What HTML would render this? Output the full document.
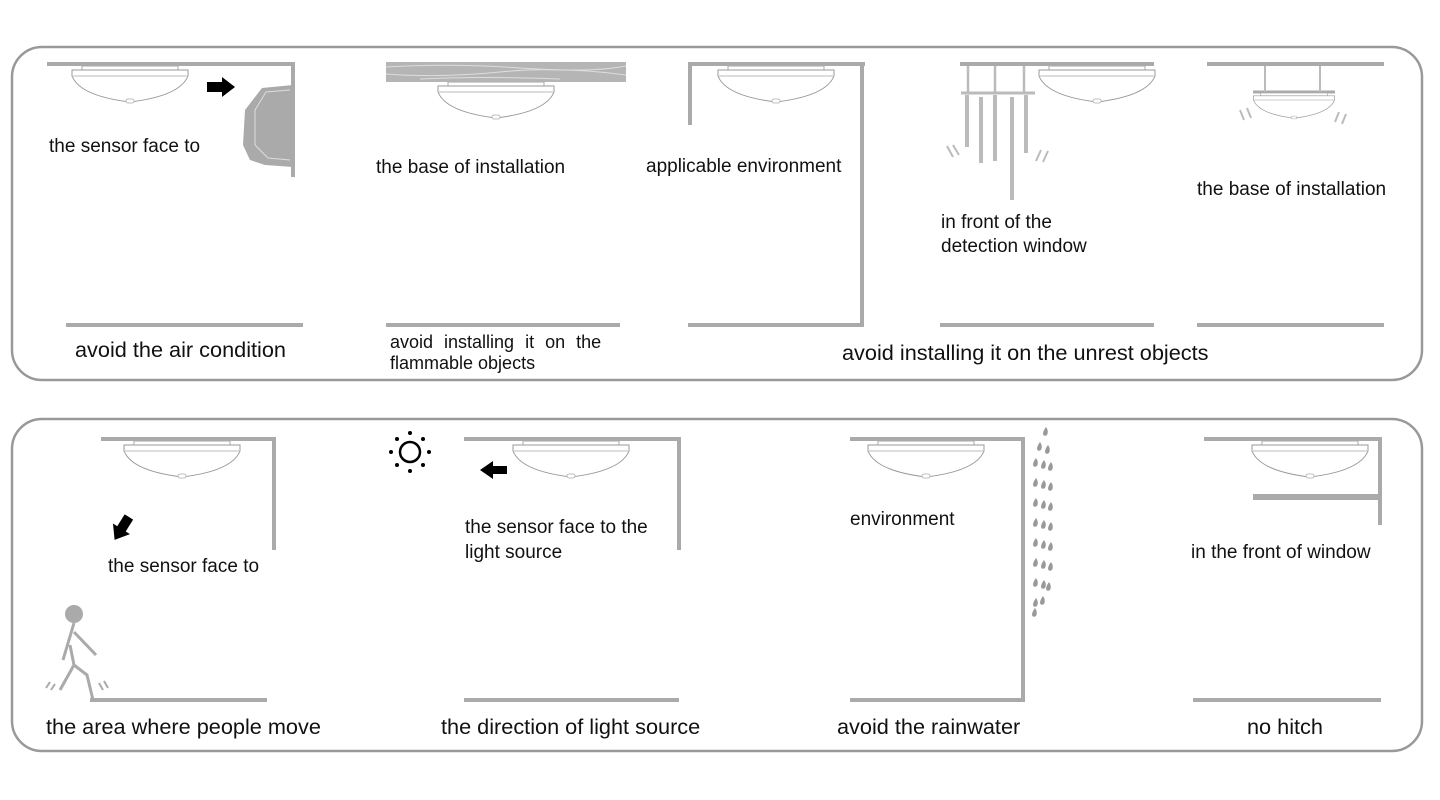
<!DOCTYPE html>
<html><head><meta charset="utf-8"><style>
html,body{margin:0;padding:0;background:#fff;width:1440px;height:800px;overflow:hidden}
svg text{font-family:"Liberation Sans",Arial,sans-serif;fill:#111}
</style></head><body>
<svg width="1440" height="800" viewBox="0 0 1440 800" xmlns="http://www.w3.org/2000/svg">
<defs>
<g id="sen">
<rect x="-48" y="0" width="96" height="4" fill="#fff" stroke="#aaa" stroke-width="1"/>
<path d="M-58,4 L58,4 L58,10 Q50,30 0,36 Q-50,30 -58,10 Z" fill="#fff" stroke="#999" stroke-width="1"/>
<line x1="-57" y1="10" x2="57" y2="10" stroke="#bbb" stroke-width="1"/>
<rect x="-4" y="33" width="8" height="4" rx="2" fill="#fff" stroke="#aaa" stroke-width="0.8"/>
</g>
<g id="drop"><path d="M0,0 Q3,4 1,8 Q-2,10 -3,7 Q-3,4 0,0Z" fill="#999"/></g>
</defs>
<g fill="none" stroke="#999" stroke-width="2.5">
<rect x="12" y="47" width="1410" height="333" rx="30"/>
<rect x="12" y="419" width="1410" height="332" rx="30"/>
</g>
<g stroke="#aaa" stroke-width="4" fill="none">
<line x1="47" y1="64" x2="295" y2="64"/><line x1="293" y1="64" x2="293" y2="177"/>
<line x1="66" y1="325" x2="303" y2="325"/>
<line x1="386" y1="325" x2="620" y2="325"/>
<line x1="688" y1="64" x2="865" y2="64"/><line x1="690" y1="64" x2="690" y2="125"/>
<line x1="862" y1="64" x2="862" y2="327"/><line x1="688" y1="325" x2="864" y2="325"/>
<line x1="960" y1="64" x2="1154" y2="64"/><line x1="940" y1="325" x2="1154" y2="325"/>
<line x1="1207" y1="64" x2="1384" y2="64"/><line x1="1197" y1="325" x2="1384" y2="325"/>
<line x1="1253" y1="92" x2="1335" y2="92" stroke-width="3"/>
<line x1="101" y1="439" x2="276" y2="439"/><line x1="274" y1="439" x2="274" y2="550"/>
<line x1="90" y1="700" x2="267" y2="700"/>
<line x1="464" y1="439" x2="681" y2="439"/><line x1="679" y1="439" x2="679" y2="550"/>
<line x1="464" y1="700" x2="679" y2="700"/>
<line x1="850" y1="439" x2="1025" y2="439"/><line x1="1023" y1="439" x2="1023" y2="700"/>
<line x1="850" y1="700" x2="1025" y2="700"/>
<line x1="1204" y1="439" x2="1382" y2="439"/><line x1="1380" y1="439" x2="1380" y2="525"/>
<line x1="1253" y1="497" x2="1382" y2="497" stroke-width="6"/>
<line x1="1193" y1="700" x2="1381" y2="700"/>
</g>
<rect x="386" y="62" width="240" height="20" fill="#b5b5b5"/>
<g stroke="#ddd" stroke-width="1" fill="none">
<path d="M386,67 Q450,63 520,68 T626,66"/><path d="M386,74 Q440,78 500,72 T626,75"/><path d="M420,79 Q480,76 560,79"/>
</g>
<use href="#sen" x="130" y="66"/>
<use href="#sen" x="496" y="82"/>
<use href="#sen" x="776" y="66"/>
<use href="#sen" x="1097" y="66"/>
<g transform="translate(1294,93) scale(0.7)"><use href="#sen"/></g>
<use href="#sen" x="182" y="441"/>
<use href="#sen" x="571" y="441"/>
<use href="#sen" x="926" y="441"/>
<use href="#sen" x="1310" y="441"/>
<path d="M293,85 L262,88 L245,110 L243,145 L250,160 L265,165 L293,167 Z" fill="#aaa"/>
<path d="M290,90 L266,92 L255,110 L255,145 L268,158 L290,160" fill="none" stroke="#ddd" stroke-width="1"/>
<path d="M207,82 L222,82 L222,77 L235,87 L222,97 L222,92 L207,92 Z" fill="#000"/>
<path d="M507,466 L493,466 L493,461 L480,470 L493,479 L493,474 L507,474 Z" fill="#000"/>
<path d="M0,-5 L14,-5 L14,-10 L27,0 L14,10 L14,5 L0,5 Z" fill="#000" transform="translate(122,528) rotate(122) translate(-13,0)"/>
<g stroke="#bbb" fill="none">
<g stroke-width="2.5"><line x1="968" y1="66" x2="968" y2="93"/><line x1="995" y1="66" x2="995" y2="93"/><line x1="1024" y1="66" x2="1024" y2="93"/></g>
<line x1="961" y1="93" x2="1035" y2="93" stroke-width="3"/>
<g stroke-width="4"><line x1="967" y1="95" x2="967" y2="147"/><line x1="981" y1="97" x2="981" y2="163"/><line x1="995" y1="95" x2="995" y2="161"/><line x1="1012" y1="97" x2="1012" y2="200"/><line x1="1026" y1="95" x2="1026" y2="153"/></g>
<g stroke-width="2"><path d="M947,146 L953,157 M953,145 L959,155 M1036,161 L1041,150 M1043,162 L1048,151"/>
<line x1="1265" y1="66" x2="1265" y2="92"/><line x1="1320" y1="66" x2="1320" y2="92"/>
<path d="M1240,110 L1244,120 M1247,108 L1251,118 M1335,122 L1339,112 M1342,124 L1346,114"/></g>
</g>
<g stroke="#aaa" stroke-width="3" fill="none">
<circle cx="74" cy="614" r="9" fill="#aaa" stroke="none"/>
<path d="M74,623 L63,660 M74,632 L96,655 M70,645 L74,665 L60,690 M74,665 L87,675 L93,700"/>
<path d="M46,688 L50,682 M51,690 L55,684 M99,683 L103,690 M104,681 L108,688" stroke-width="2"/>
</g>
<g fill="#000"><circle cx="410" cy="452" r="10" fill="none" stroke="#000" stroke-width="2.5"/>
<circle cx="410" cy="433" r="2"/><circle cx="410" cy="471" r="2"/><circle cx="391" cy="452" r="2"/><circle cx="429" cy="452" r="2"/>
<circle cx="397" cy="439" r="2"/><circle cx="423" cy="439" r="2"/><circle cx="397" cy="465" r="2"/><circle cx="423" cy="465" r="2"/></g>
<g>
<use href="#drop" x="1046" y="427"/><use href="#drop" x="1040" y="442"/><use href="#drop" x="1048" y="445"/>
<use href="#drop" x="1036" y="458"/><use href="#drop" x="1044" y="460"/><use href="#drop" x="1051" y="462"/>
<use href="#drop" x="1036" y="478"/><use href="#drop" x="1044" y="480"/><use href="#drop" x="1051" y="482"/>
<use href="#drop" x="1036" y="498"/><use href="#drop" x="1044" y="500"/><use href="#drop" x="1051" y="502"/>
<use href="#drop" x="1036" y="518"/><use href="#drop" x="1044" y="520"/><use href="#drop" x="1051" y="522"/>
<use href="#drop" x="1036" y="538"/><use href="#drop" x="1044" y="540"/><use href="#drop" x="1051" y="542"/>
<use href="#drop" x="1036" y="558"/><use href="#drop" x="1044" y="560"/><use href="#drop" x="1051" y="562"/>
<use href="#drop" x="1036" y="578"/><use href="#drop" x="1044" y="580"/><use href="#drop" x="1049" y="582"/>
<use href="#drop" x="1036" y="598"/><use href="#drop" x="1043" y="596"/><use href="#drop" x="1035" y="608"/>
</g>
<g font-size="19">
<text x="49" y="152">the sensor face to</text>
<text x="376" y="173">the base of installation</text>
<text x="646" y="172">applicable environment</text>
<text x="941" y="228">in front of the</text>
<text x="941" y="252">detection window</text>
<text x="1197" y="195">the base of installation</text>
<text x="108" y="572">the sensor face to</text>
<text x="465" y="533">the sensor face to the</text>
<text x="465" y="558">light source</text>
<text x="850" y="525">environment</text>
<text x="1191" y="558">in the front of window</text>
</g>
<g font-size="18">
<text x="390" y="348" word-spacing="6">avoid installing it on the</text>
<text x="390" y="369">flammable objects</text>
</g>
<g font-size="21.7">
<text x="75" y="357">avoid the air condition</text>
<text x="842" y="360">avoid installing it on the unrest objects</text>
<text x="46" y="734">the area where people move</text>
<text x="441" y="734">the direction of light source</text>
<text x="837" y="734">avoid the rainwater</text>
<text x="1247" y="734">no hitch</text>
</g>
</svg>
</body></html>
